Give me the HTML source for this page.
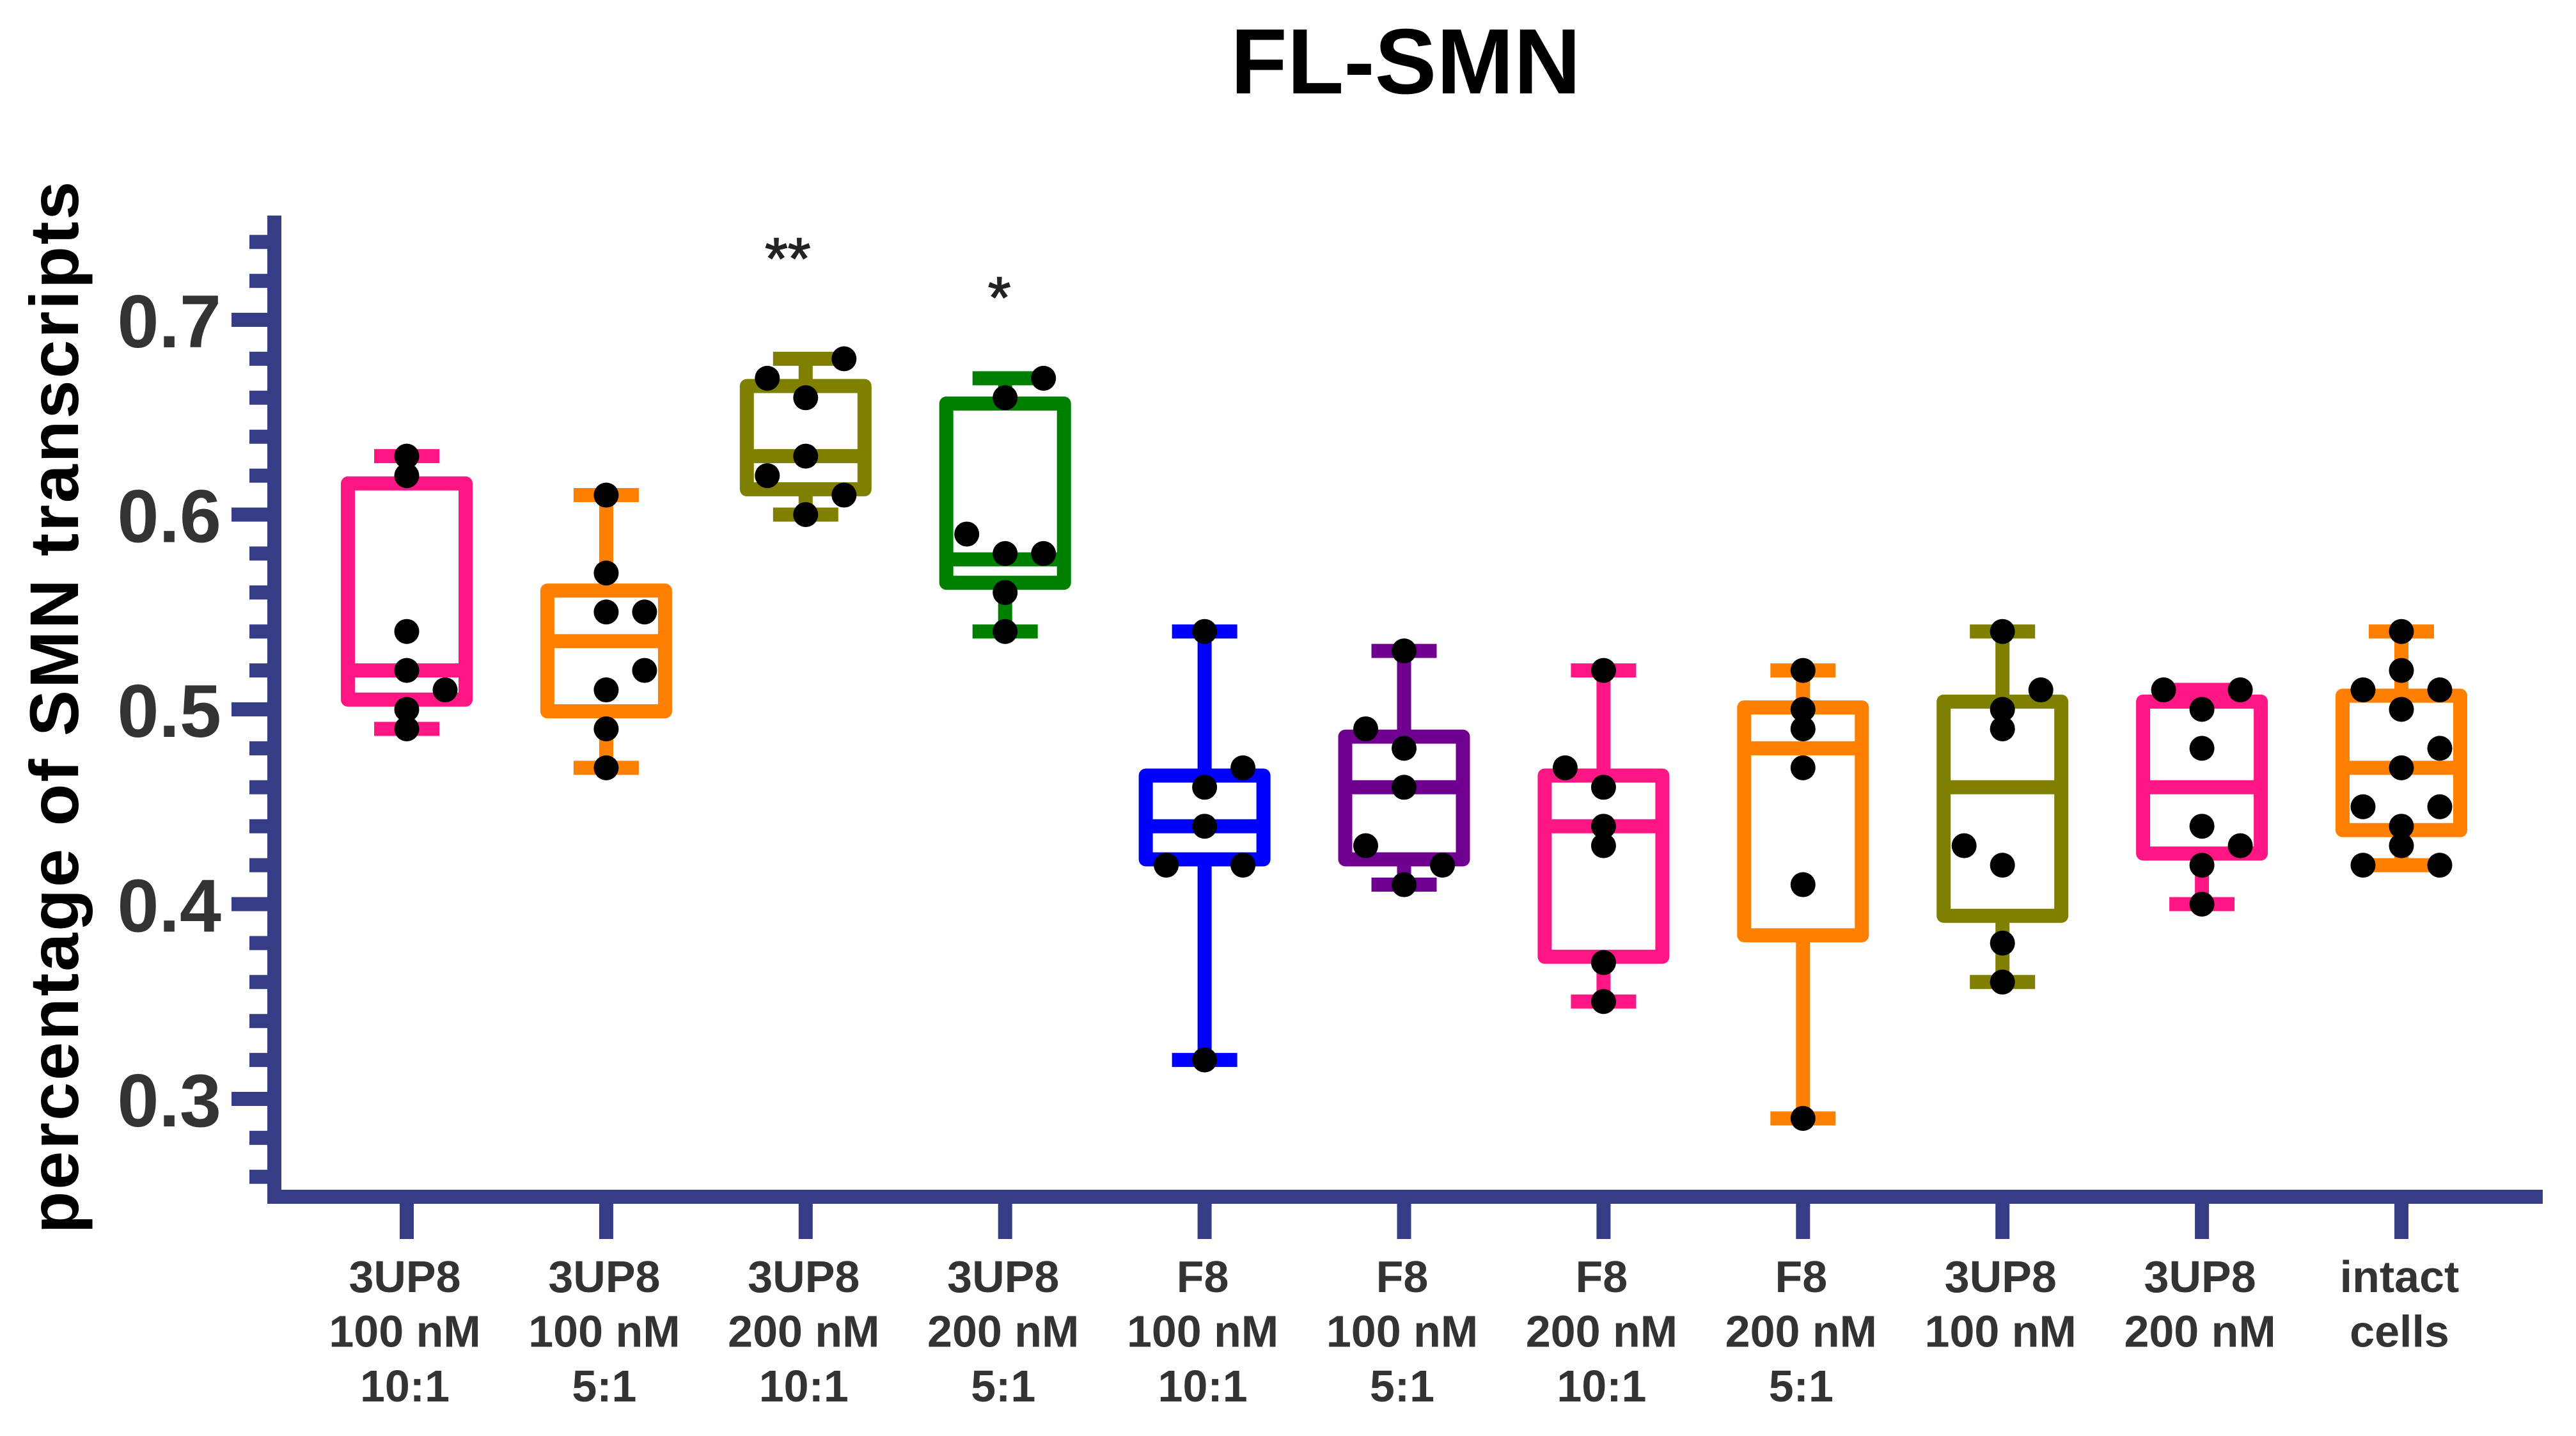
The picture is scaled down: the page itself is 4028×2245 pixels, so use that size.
<!DOCTYPE html>
<html lang="en">
<head>
<meta charset="utf-8">
<title>FL-SMN</title>
<style>
html,body{margin:0;padding:0;background:#fff;}
svg{display:block;font-family:"Liberation Sans",sans-serif;}
</style>
</head>
<body>
<svg id="chart" xmlns="http://www.w3.org/2000/svg" width="4028" height="2245" viewBox="0 0 4028 2245">
<rect x="0" y="0" width="4028" height="2245" fill="#ffffff"/>
<text x="2198" y="146" text-anchor="middle" font-size="145" font-weight="700" fill="#000">FL-SMN</text>
<text transform="translate(122 1106) rotate(-90)" text-anchor="middle" font-size="108" font-weight="700" fill="#000" textLength="1645" lengthAdjust="spacing">percentage of SMN transcripts</text>
</svg>
<script>
const categories = [
  ["3UP8","100 nM","10:1"],["3UP8","100 nM","5:1"],["3UP8","200 nM","10:1"],["3UP8","200 nM","5:1"],
  ["F8","100 nM","10:1"],["F8","100 nM","5:1"],["F8","200 nM","10:1"],["F8","200 nM","5:1"],
  ["3UP8","100 nM"],["3UP8","200 nM"],["intact","cells"]
];
const colors = ["#ff1584","#ff8000","#808000","#008000","#0000ff","#70008f","#ff1584","#ff8000","#808000","#ff1584","#ff8000"];
const whiskerHigh = [0.63,0.61,0.68,0.67,0.54,0.53,0.52,0.52,0.54,0.51,0.54];
const q3Values    = [0.616,0.561,0.666,0.657,0.466,0.486,0.466,0.501,0.504,0.504,0.507];
const medians     = [0.52,0.535,0.63,0.577,0.44,0.46,0.44,0.48,0.46,0.46,0.47];
const q1Values    = [0.505,0.499,0.613,0.565,0.423,0.423,0.373,0.384,0.394,0.426,0.438];
const whiskerLow  = [0.49,0.47,0.60,0.54,0.32,0.41,0.35,0.29,0.36,0.40,0.42];
const pointValues = [
  [0.63,0.62,0.54,0.52,0.51,0.50,0.49],
  [0.61,0.57,0.55,0.55,0.52,0.51,0.49,0.47],
  [0.68,0.67,0.66,0.63,0.62,0.61,0.60],
  [0.67,0.66,0.59,0.58,0.58,0.56,0.54],
  [0.54,0.47,0.46,0.44,0.42,0.42,0.32],
  [0.53,0.49,0.48,0.46,0.43,0.42,0.41],
  [0.52,0.47,0.46,0.44,0.43,0.37,0.35],
  [0.52,0.50,0.49,0.47,0.41,0.29],
  [0.54,0.51,0.50,0.49,0.43,0.42,0.38,0.36],
  [0.51,0.51,0.50,0.48,0.44,0.43,0.42,0.40],
  [0.54,0.52,0.51,0.51,0.50,0.48,0.47,0.45,0.45,0.44,0.43,0.42,0.42]
];
/* swarm column of each point: -1 left, 0 centre, 1 right */
const pointSides = [
  [0,0,0,0,1,0,0],
  [0,0,0,1,1,0,0,0],
  [1,-1,0,0,-1,1,0],
  [1,0,-1,0,1,0,0],
  [0,1,0,0,-1,1,0],
  [0,-1,0,0,-1,1,0],
  [0,-1,0,0,0,0,0],
  [0,0,0,0,0,0],
  [0,1,0,0,-1,0,0,0],
  [-1,1,0,0,0,1,0,0],
  [0,0,-1,1,0,1,0,-1,1,0,0,-1,1]
];
const majorTicks = [0.3,0.4,0.5,0.6,0.7];
const minorTicks = [0.26,0.28,0.32,0.34,0.36,0.38,0.42,0.44,0.46,0.48,0.52,0.54,0.56,0.58,0.62,0.64,0.66,0.68,0.72,0.74];
const significanceLabels = ["","","**","*","","","","","","",""];
const significanceLevels = [null,null,0.745,0.725,null,null,null,null,null,null,null];

const AXIS = "#363c85", TEXT = "#333333";
const STROKE = 22, BOX_HALF = 92, CAP_HALF = 51, DOT_R = 19.5, SWARM = 60;
const svg = document.getElementById("chart");
const NS = "http://www.w3.org/2000/svg";
function y(v){ return 1718 - (v - 0.3) * 3045; }
function x(i){ return 636 + i * 311.9; }
function make(tag, attrs, parent){
  const el = document.createElementNS(NS, tag);
  for (const k in attrs) el.setAttribute(k, attrs[k]);
  (parent || svg).appendChild(el);
  return el;
}

/* axes */
const yAxis = make("line",{x1:429,x2:429,y1:337,y2:1882,stroke:AXIS,"stroke-width":STROKE});


const xAxis = make("line",{x1:418,x2:3976,y1:1871,y2:1871,stroke:AXIS,"stroke-width":STROKE});



minorTicks.forEach(function(v){
  const t = make("line",{x1:390,x2:420,y1:y(v),y2:y(v),stroke:AXIS,"stroke-width":STROKE});
  
  
});
majorTicks.forEach(function(v){
  const t = make("line",{x1:362,x2:420,y1:y(v),y2:y(v),stroke:AXIS,"stroke-width":STROKE});
  
  
  const l = make("text",{x:346,y:y(v)+43,"text-anchor":"end","font-size":117,"font-weight":700,fill:TEXT});
  l.textContent = v.toFixed(1);
  
  
});

/* categories */
categories.forEach(function(lines,i){
  const cx = x(i), c = colors[i];
  const tick = make("line",{x1:cx,x2:cx,y1:1880,y2:1937,stroke:AXIS,"stroke-width":STROKE});
  
  
  const label = make("text",{"text-anchor":"middle","font-size":70,"font-weight":700,fill:TEXT});
  
  
  lines.forEach(function(s,j){
    const ts = make("tspan",{x:cx-3,y:2020+j*85.5},label);
    ts.textContent = s;
  });

  const g = make("g",{});
  
  

  const whisker = make("line",{x1:cx,x2:cx,y1:y(whiskerHigh[i]),y2:y(whiskerLow[i]),stroke:c,"stroke-width":STROKE},g);
  
  
  const capHi = make("line",{x1:cx-CAP_HALF,x2:cx+CAP_HALF,y1:y(whiskerHigh[i]),y2:y(whiskerHigh[i]),stroke:c,"stroke-width":STROKE},g);
  
  
  const capLo = make("line",{x1:cx-CAP_HALF,x2:cx+CAP_HALF,y1:y(whiskerLow[i]),y2:y(whiskerLow[i]),stroke:c,"stroke-width":STROKE},g);
  
  
  const box = make("rect",{x:cx-BOX_HALF,width:BOX_HALF*2,y:y(q3Values[i]),height:y(q1Values[i])-y(q3Values[i]),fill:"#fff",stroke:c,"stroke-width":STROKE,"stroke-linejoin":"round"},g);
  
  
  const med = make("line",{x1:cx-BOX_HALF,x2:cx+BOX_HALF,y1:y(medians[i]),y2:y(medians[i]),stroke:c,"stroke-width":STROKE},g);
  
  

  pointValues[i].forEach(function(v,k){
    const d = make("circle",{cx:cx+pointSides[i][k]*SWARM,cy:y(v),r:DOT_R,fill:"#000"},g);
    
    
  });

  if (significanceLabels[i]) {
    const s = make("text",{x:cx-9-19*(significanceLabels[i].length-1),y:y(significanceLevels[i])+73,"text-anchor":"middle","font-size":92,"font-weight":400,stroke:"#222","stroke-width":1.5,fill:"#222"});
    s.textContent = significanceLabels[i];
    
    
  }
});
</script>
</body>
</html>
